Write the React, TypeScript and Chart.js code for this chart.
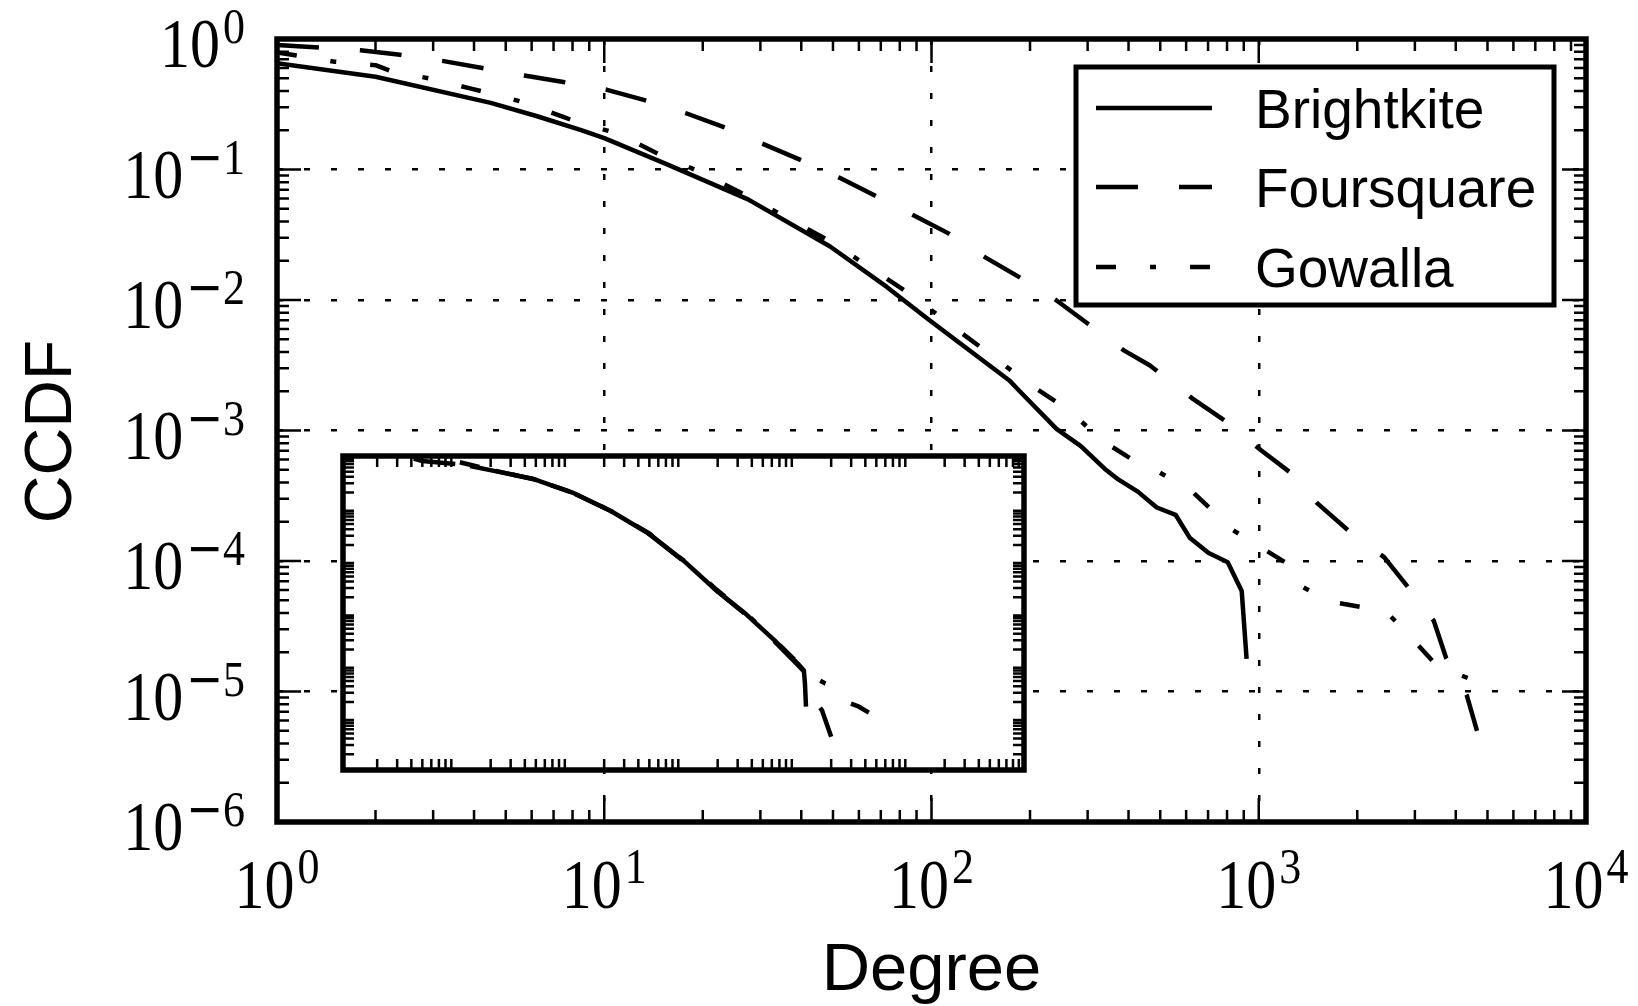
import React, { useEffect, useRef } from 'react';
import { Chart, registerables } from 'chart.js';

Chart.register(...registerables);

// ---------------- data ----------------
const seriesNames = ['Brightkite', 'Foursquare', 'Gowalla'];

// main panel: degree vs CCDF
const brightkiteDegree = [1, 2, 4.5, 6.2, 8.5, 10, 15.5, 27.5, 49, 73, 98.6, 172.6, 186, 241, 286, 338, 373, 427, 488, 557, 615, 703, 804, 887, 918];
const brightkiteCcdf = [0.652, 0.514, 0.324, 0.257, 0.2, 0.174, 0.11, 0.059, 0.0257, 0.0126, 0.007, 0.00243, 0.002, 0.00103, 0.00076, 0.00051, 0.00042, 0.00034, 0.000257, 0.000226, 0.000151, 0.000115, 0.0000977, 0.0000589, 0.0000178];

const foursquareDegree = [1, 1.8, 2.34, 3.2, 4.24, 5.7, 7.5, 10.2, 13.2, 17.7, 23.1, 30.9, 39.6, 52.4, 67.1, 88.7, 112.7, 146, 186, 240, 300, 387, 464, 631, 804, 1014, 1245, 1514, 1884, 2415, 2858, 3428, 3733, 4325, 4645];
const foursquareCcdf = [0.9, 0.82, 0.76, 0.68, 0.6, 0.525, 0.468, 0.408, 0.342, 0.271, 0.212, 0.155, 0.119, 0.0863, 0.0631, 0.0442, 0.0324, 0.0212, 0.0149, 0.01, 0.0066, 0.00411, 0.00316, 0.00174, 0.00115, 0.000708, 0.000479, 0.000275, 0.00017, 0.000107, 0.0000631, 0.0000347, 0.0000182, 0.0000093, 0.000005];

const gowallaDegree = [1, 1.5, 2, 2.26, 2.91, 3.86, 4.37, 5.6, 7.46, 8.45, 10.9, 14.8, 19.9, 27.2, 36.8, 49.8, 65.6, 87.5, 115, 150, 198, 261, 336, 433, 488, 615, 755, 817, 1023, 1259, 1318, 1648, 2138, 2455, 2884, 3467, 3917, 5012];
const gowallaCcdf = [0.79, 0.67, 0.63, 0.56, 0.5, 0.42, 0.39, 0.33, 0.254, 0.226, 0.19, 0.13, 0.0944, 0.063, 0.0417, 0.0275, 0.0174, 0.0108, 0.00638, 0.00389, 0.00229, 0.00145, 0.000822, 0.00055, 0.00049, 0.000355, 0.000219, 0.000178, 0.000126, 0.0000912, 0.0000661, 0.000049, 0.0000437, 0.0000407, 0.0000269, 0.0000162, 0.0000141, 0.000011];

// inset panel: normalised degree vs CCDF
const insetBrightkiteX = [0.132, 0.219, 0.479, 1.05, 2.29, 5.01, 10, 19.5, 35.5, 63.1, 102, 115, 117.5, 120];
const insetBrightkiteY = [0.646, 0.513, 0.363, 0.2, 0.0891, 0.0324, 0.01, 0.00269, 0.000955, 0.000302, 0.000107, 0.0000794, 0.0000447, 0.0000162];

const insetFoursquareX = [0.042, 0.05, 0.11, 0.22, 0.48, 1.05, 2.29, 5.0, 10, 19.5, 35.5, 63, 100, 126, 141, 151, 166, 178, 200];
const insetFoursquareY = [0.89, 0.8, 0.69, 0.52, 0.36, 0.2, 0.089, 0.032, 0.0098, 0.0027, 0.00093, 0.00029, 0.000105, 0.000063, 0.0000347, 0.0000182, 0.0000138, 0.0000089, 0.0000043];

const insetGowallaX = [0.107, 0.22, 0.48, 1.05, 2.29, 5.0, 10, 19.5, 35.5, 63, 100, 126, 141, 178, 204, 234, 263, 352, 490];
const insetGowallaY = [0.76, 0.52, 0.36, 0.2, 0.09, 0.033, 0.0102, 0.0028, 0.00098, 0.00031, 0.000115, 0.000079, 0.000059, 0.000045, 0.0000417, 0.000029, 0.0000205, 0.0000162, 0.0000105];

// ticks
const xDecades = [1, 10, 100, 1000, 10000];
const xTickExponents = ['0', '1', '2', '3', '4'];
const yDecades = [1, 0.1, 0.01, 0.001, 0.0001, 0.00001, 0.000001];
const yTickExponents = ['0', '−1', '−2', '−3', '−4', '−5', '−6'];
const insetXDecades = [0.01, 0.1, 1, 10, 100, 1000, 10000];
const insetYDecades = [0.000001, 0.00001, 0.0001, 0.001, 0.01, 0.1, 1];

const xTitle = 'Degree';
const yTitle = 'CCDF';

// ---------------- styles / layout ----------------
const SERIES_DASH: number[][] = [[], [42, 41], [20, 34, 6, 34]];
const LINE_W = 4.5;

const W = 1638;
const H = 1006;
const AREA = { left: 277, top: 39, right: 1586, bottom: 822 };
const INSET = { left: 343, top: 456, right: 1024, bottom: 770 };
const INSET_PAD = 7;

const SERIF = '"Liberation Serif", "Times New Roman", serif';
const SANS = '"Liberation Sans", Arial, Helvetica, sans-serif';
const BASE_FONT = `60px ${SERIF}`;
const SUP_FONT = `44px ${SERIF}`;
const MINUS_FONT = `44px "DejaVu Sans", sans-serif`;
const VSCALE = 1.15;
const SUP_GAP = 3;

const MAJOR_LEN = 24;
const MINOR_LEN = 12;
const TICK_W = 2.5;

function pts(xs: number[], ys: number[]) {
  return xs.map((x, i) => ({ x, y: ys[i] }));
}

function scaledText(ctx: CanvasRenderingContext2D, text: string, x: number, y: number, font: string) {
  ctx.save();
  ctx.font = font;
  ctx.translate(x, y);
  ctx.scale(1, VSCALE);
  ctx.fillText(text, 0, 0);
  ctx.restore();
}

function drawPower(ctx: CanvasRenderingContext2D, exp: string, anchorX: number, baseY: number, supY: number, align: 'right' | 'center') {
  const parts: { text: string; font: string }[] = [];
  let e = exp;
  if (e.startsWith('−')) {
    parts.push({ text: '−', font: MINUS_FONT });
    e = e.slice(1);
  }
  parts.push({ text: e, font: SUP_FONT });
  ctx.font = BASE_FONT;
  const wBase = ctx.measureText('10').width;
  const widths = parts.map((p) => {
    ctx.font = p.font;
    return ctx.measureText(p.text).width;
  });
  const total = wBase + SUP_GAP + widths.reduce((a, b) => a + b, 0);
  let x = align === 'right' ? anchorX - total : anchorX - total / 2;
  ctx.textAlign = 'left';
  ctx.textBaseline = 'alphabetic';
  scaledText(ctx, '10', x, baseY, BASE_FONT);
  x += wBase + SUP_GAP;
  parts.forEach((p, i) => {
    scaledText(ctx, p.text, x, supY, p.font);
    x += widths[i];
  });
}

function drawLogTicks(ctx: CanvasRenderingContext2D, chart: any, xDec: number[], yDec: number[], withMajor: boolean, minorLen: number) {
  const a = chart.chartArea;
  const xs = chart.scales.x;
  const ys = chart.scales.y;
  ctx.beginPath();
  for (let i = 0; i < xDec.length - 1; i++) {
    for (let k = 2; k <= 9; k++) {
      const px = xs.getPixelForValue(xDec[i] * k);
      ctx.moveTo(px, a.bottom);
      ctx.lineTo(px, a.bottom - minorLen);
      ctx.moveTo(px, a.top);
      ctx.lineTo(px, a.top + minorLen);
    }
  }
  for (let i = 0; i < yDec.length - 1; i++) {
    const lo = Math.min(yDec[i], yDec[i + 1]);
    for (let k = 2; k <= 9; k++) {
      const py = ys.getPixelForValue(lo * k);
      ctx.moveTo(a.left, py);
      ctx.lineTo(a.left + minorLen, py);
      ctx.moveTo(a.right, py);
      ctx.lineTo(a.right - minorLen, py);
    }
  }
  if (withMajor) {
    xDec.forEach((v) => {
      const px = xs.getPixelForValue(v);
      ctx.moveTo(px, a.bottom);
      ctx.lineTo(px, a.bottom - MAJOR_LEN);
      ctx.moveTo(px, a.top);
      ctx.lineTo(px, a.top + MAJOR_LEN);
    });
    yDec.forEach((v) => {
      const py = ys.getPixelForValue(v);
      ctx.moveTo(a.left, py);
      ctx.lineTo(a.left + MAJOR_LEN, py);
      ctx.moveTo(a.right, py);
      ctx.lineTo(a.right - MAJOR_LEN, py);
    });
  }
  ctx.stroke();
}

const mainDecor = {
  id: 'mainDecor',
  afterDraw(chart: any) {
    const ctx: CanvasRenderingContext2D = chart.ctx;
    const a = chart.chartArea;
    const xs = chart.scales.x;
    const ys = chart.scales.y;
    ctx.save();
    ctx.strokeStyle = '#000';
    ctx.fillStyle = '#000';
    ctx.setLineDash([]);
    ctx.lineWidth = TICK_W;
    drawLogTicks(ctx, chart, xDecades, yDecades, true, MINOR_LEN);

    // frame
    ctx.lineWidth = 5.5;
    ctx.strokeRect(a.left, a.top, a.right - a.left, a.bottom - a.top);

    // tick labels
    xDecades.forEach((v, i) => {
      const px = xs.getPixelForValue(v);
      drawPower(ctx, xTickExponents[i], px, a.bottom + 86, a.bottom + 61, 'center');
    });
    yDecades.forEach((v, i) => {
      const py = ys.getPixelForValue(v);
      drawPower(ctx, yTickExponents[i], a.left - 32, py + 28, py + 4, 'right');
    });

    // axis titles
    ctx.font = `67px ${SANS}`;
    ctx.textAlign = 'center';
    ctx.textBaseline = 'alphabetic';
    ctx.fillText(xTitle, (a.left + a.right) / 2, 990);
    ctx.save();
    ctx.translate(71, (a.top + a.bottom) / 2 + 1);
    ctx.rotate(-Math.PI / 2);
    ctx.font = `66px ${SANS}`;
    ctx.fillText(yTitle, 0, 0);
    ctx.restore();

    // legend
    const box = { left: 1076, top: 67, right: 1554, bottom: 305 };
    ctx.fillStyle = '#fff';
    ctx.fillRect(box.left, box.top, box.right - box.left, box.bottom - box.top);
    ctx.fillStyle = '#000';
    ctx.lineWidth = 5;
    ctx.strokeRect(box.left, box.top, box.right - box.left, box.bottom - box.top);
    const rows = [108, 187, 267];
    chart.data.datasets.forEach((ds: any, i: number) => {
      const y = rows[i];
      ctx.save();
      ctx.lineWidth = LINE_W;
      ctx.setLineDash(ds.borderDash || []);
      ctx.beginPath();
      ctx.moveTo(1096, y);
      ctx.lineTo(1212, y);
      ctx.stroke();
      ctx.restore();
      ctx.font = `55px ${SANS}`;
      ctx.textAlign = 'left';
      ctx.textBaseline = 'alphabetic';
      ctx.fillText(ds.label, 1255, y + 20);
    });
    ctx.restore();
  },
};

const insetDecor = {
  id: 'insetDecor',
  beforeDraw(chart: any) {
    const ctx: CanvasRenderingContext2D = chart.ctx;
    const a = chart.chartArea;
    ctx.save();
    ctx.fillStyle = '#fff';
    ctx.fillRect(a.left - 2, a.top - 2, a.right - a.left + 4, a.bottom - a.top + 4);
    ctx.restore();
  },
  afterDraw(chart: any) {
    const ctx: CanvasRenderingContext2D = chart.ctx;
    const a = chart.chartArea;
    ctx.save();
    ctx.strokeStyle = '#000';
    ctx.setLineDash([]);
    ctx.lineWidth = TICK_W;
    drawLogTicks(ctx, chart, insetXDecades, insetYDecades, false, 11);
    ctx.lineWidth = 5.5;
    ctx.strokeRect(a.left, a.top, a.right - a.left, a.bottom - a.top);
    ctx.restore();
  },
};

function makeDatasets(xsArr: number[][], ysArr: number[][]) {
  return seriesNames.map((name, i) => ({
    label: name,
    data: pts(xsArr[i], ysArr[i]),
    borderColor: '#000',
    backgroundColor: '#000',
    borderWidth: LINE_W,
    borderDash: SERIES_DASH[i],
    borderJoinStyle: 'round' as const,
    pointRadius: 0,
    tension: 0,
    fill: false,
  }));
}

export default function App() {
  const mainRef = useRef<HTMLCanvasElement>(null);
  const insetRef = useRef<HTMLCanvasElement>(null);
  const insetW = INSET.right - INSET.left + 2 * INSET_PAD;
  const insetH = INSET.bottom - INSET.top + 2 * INSET_PAD;

  useEffect(() => {
    const main = new Chart(mainRef.current as HTMLCanvasElement, {
      type: 'line',
      data: {
        datasets: makeDatasets(
          [brightkiteDegree, foursquareDegree, gowallaDegree],
          [brightkiteCcdf, foursquareCcdf, gowallaCcdf]
        ) as any,
      },
      options: {
        responsive: false,
        animation: false,
        devicePixelRatio: 1,
        events: [],
        layout: { padding: { left: AREA.left, top: AREA.top, right: W - AREA.right, bottom: H - AREA.bottom } },
        plugins: { legend: { display: false }, tooltip: { enabled: false } },
        scales: {
          x: {
            type: 'logarithmic',
            min: 1,
            max: 10000,
            afterFit: (s: any) => { s.height = 0; },
            afterBuildTicks: (s: any) => { s.ticks = xDecades.map((v) => ({ value: v })); },
            ticks: { display: false },
            grid: { color: '#000', lineWidth: 2.5, drawTicks: false },
            border: { display: false, dash: [6, 21] },
          },
          y: {
            type: 'logarithmic',
            min: 0.000001,
            max: 1,
            afterFit: (s: any) => { s.width = 0; },
            afterBuildTicks: (s: any) => { s.ticks = yDecades.map((v) => ({ value: v })); },
            ticks: { display: false },
            grid: { color: '#000', lineWidth: 2.5, drawTicks: false },
            border: { display: false, dash: [6, 21] },
          },
        },
      } as any,
      plugins: [mainDecor],
    });

    const inset = new Chart(insetRef.current as HTMLCanvasElement, {
      type: 'line',
      data: {
        datasets: makeDatasets(
          [insetBrightkiteX, insetFoursquareX, insetGowallaX],
          [insetBrightkiteY, insetFoursquareY, insetGowallaY]
        ) as any,
      },
      options: {
        responsive: false,
        animation: false,
        devicePixelRatio: 1,
        events: [],
        layout: { padding: INSET_PAD },
        plugins: { legend: { display: false }, tooltip: { enabled: false } },
        scales: {
          x: {
            type: 'logarithmic',
            min: 0.01,
            max: 10000,
            afterFit: (s: any) => { s.height = 0; },
            ticks: { display: false },
            grid: { display: false },
            border: { display: false },
          },
          y: {
            type: 'logarithmic',
            min: 0.000001,
            max: 1,
            afterFit: (s: any) => { s.width = 0; },
            ticks: { display: false },
            grid: { display: false },
            border: { display: false },
          },
        },
      } as any,
      plugins: [insetDecor],
    });

    return () => {
      main.destroy();
      inset.destroy();
    };
  }, []);

  return (
    <div style={{ position: 'fixed', left: 0, top: 0, width: W, height: H, background: '#fff' }}>
      <canvas
        ref={mainRef}
        width={W}
        height={H}
        style={{ position: 'absolute', left: 0, top: 0, width: W, height: H }}
      />
      <canvas
        ref={insetRef}
        width={insetW}
        height={insetH}
        style={{
          position: 'absolute',
          left: INSET.left - INSET_PAD,
          top: INSET.top - INSET_PAD,
          width: insetW,
          height: insetH,
        }}
      />
    </div>
  );
}
